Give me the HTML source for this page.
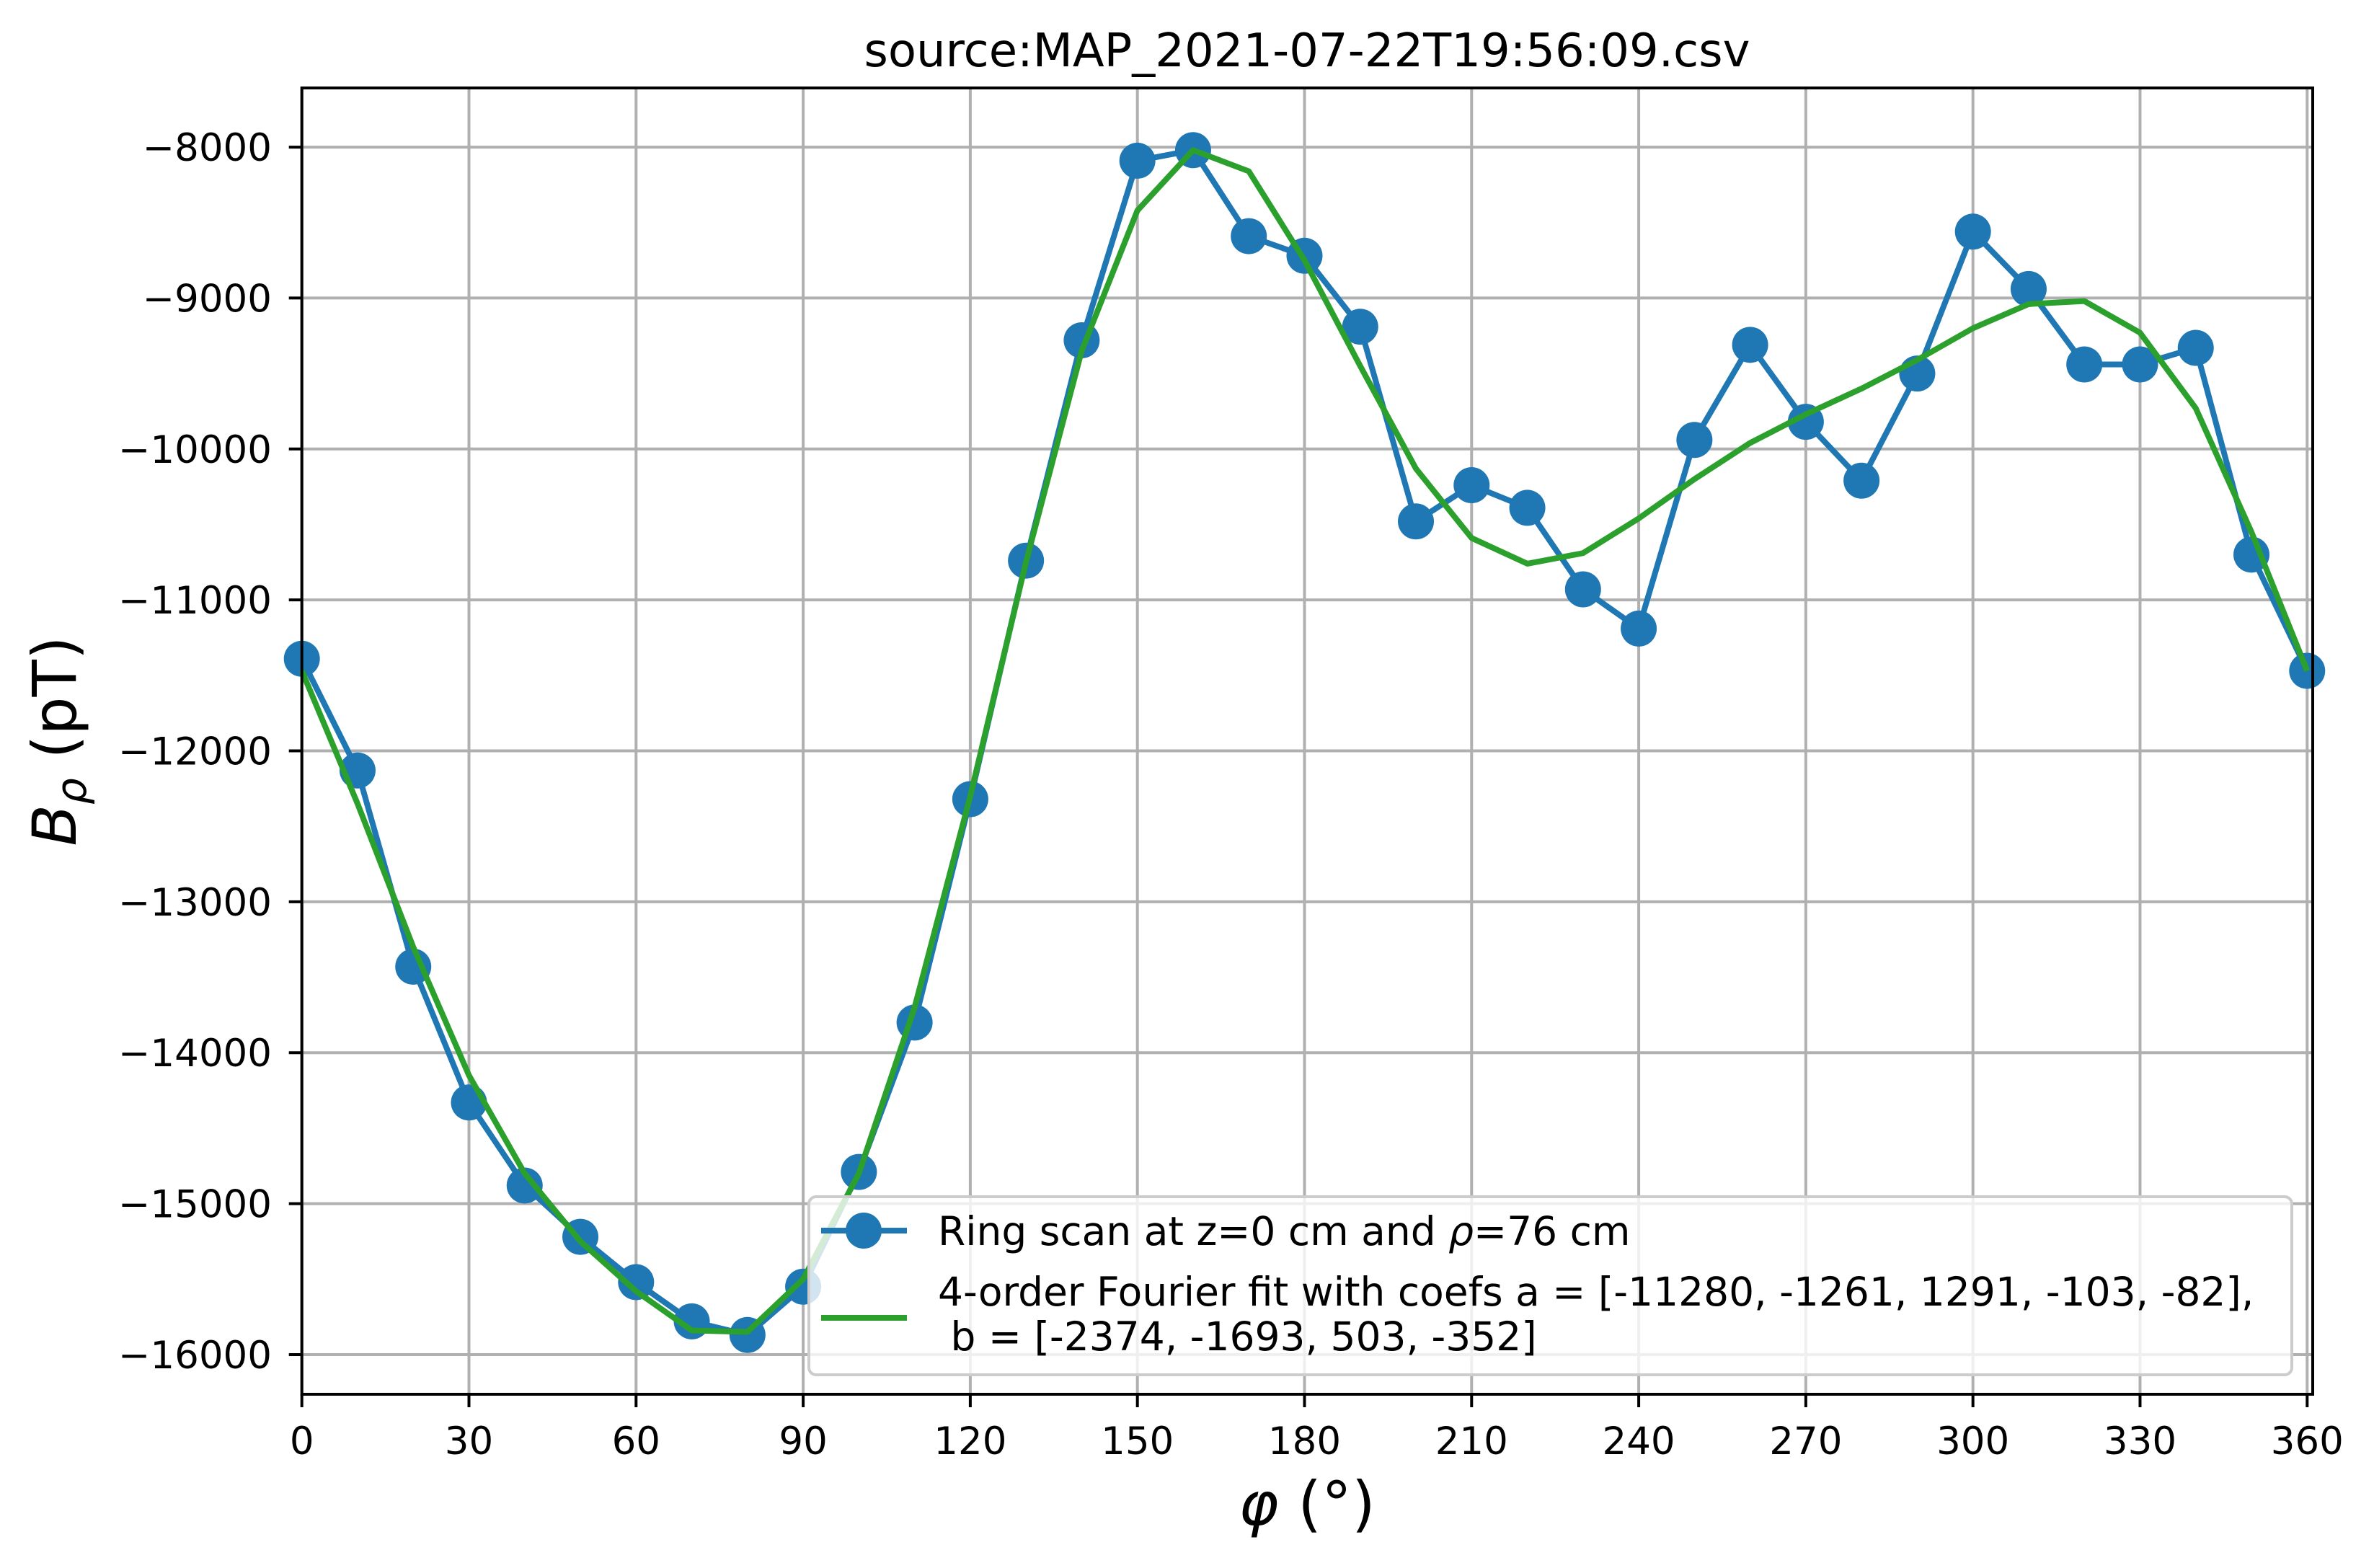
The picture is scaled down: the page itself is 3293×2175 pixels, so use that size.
<!DOCTYPE html>
<html><head><meta charset="utf-8"><style>
html,body{margin:0;padding:0;background:#fff;}
svg{display:block;font-family:"DejaVu Sans","Liberation Sans",sans-serif;}
</style></head><body>
<svg id="chart" width="3293" height="2175" viewBox="0 0 3293 2175" xmlns="http://www.w3.org/2000/svg">
<rect width="3293" height="2175" fill="#fff"/>
<g id="grid"></g>
<g id="series"></g>
<g id="legend">
  <rect x="1122" y="1660" width="2057" height="247" rx="10" fill="#fff" fill-opacity="0.8" stroke="#cccccc" stroke-width="4"/>
  <g>
    <line x1="1139" y1="1707" x2="1258" y2="1707" stroke="#1f77b4" stroke-width="8"/>
    <circle cx="1198" cy="1707" r="25" fill="#1f77b4"/>
    <text x="1301" y="1727" font-size="55">Ring scan at z=0 cm and <tspan font-style="italic">ρ</tspan>=76 cm</text>
  </g>
  <g>
    <line x1="1139" y1="1828" x2="1258" y2="1828" stroke="#2ca02c" stroke-width="8"/>
    <text x="1301" y="1811" font-size="55">4-order Fourier fit with coefs a = [-11280, -1261, 1291, -103, -82],</text>
    <text x="1301" y="1873" font-size="55" xml:space="preserve"> b = [-2374, -1693, 503, -352]</text>
  </g>
</g>
<g id="axes"></g>
<text x="1813" y="92" font-size="64" text-anchor="middle">source:MAP_2021-07-22T19:56:09.csv</text>
<text x="1813" y="2115" font-size="84" text-anchor="middle"><tspan font-style="italic">φ</tspan> (°)</text>
<text transform="translate(105,1028) rotate(-90)" font-size="84" text-anchor="middle"><tspan font-style="italic">B</tspan><tspan font-style="italic" font-size="58" dy="14">ρ</tspan><tspan dy="-14"> (pT)</tspan></text>
</svg>
<script>
const phi = [0,10,20,30,40,50,60,70,80,90,100,110,120,130,140,150,160,170,180,190,200,210,220,230,240,250,260,270,280,290,300,310,320,330,340,350,360];
const ringScan = [-11390,-12130,-13430,-14330,-14880,-15220,-15520,-15780,-15870,-15550,-14790,-13800,-12320,-10740,-9280,-8090,-8020,-8590,-8720,-9190,-10480,-10240,-10390,-10930,-11190,-9940,-9310,-9820,-10210,-9500,-8560,-8940,-9440,-9440,-9330,-10700,-11470];
const fourierFit = [-11470,-12350,-13300,-14150,-14800,-15250,-15580,-15840,-15850,-15500,-14800,-13700,-12300,-10750,-9350,-8420,-8020,-8160,-8750,-9450,-10130,-10590,-10760,-10690,-10460,-10200,-9960,-9770,-9600,-9410,-9200,-9040,-9020,-9230,-9730,-10550,-11470];
const xTicks = [0,30,60,90,120,150,180,210,240,270,300,330,360];
const yTicks = [-8000,-9000,-10000,-11000,-12000,-13000,-14000,-15000,-16000];

const NS = "http://www.w3.org/2000/svg";
const L = 418.7, R = 3208, T = 122, B = 1934;
const xMin = 0, xMax = 361.0, yMin = -16263, yMax = -7608;
function xs(v){ return L + (v - xMin) / (xMax - xMin) * (R - L); }
function ys(v){ return B - (v - yMin) / (yMax - yMin) * (B - T); }
function mk(tag, attrs, parent){ const e = document.createElementNS(NS, tag); for (const k in attrs) e.setAttribute(k, attrs[k]); parent.appendChild(e); return e; }

const grid = document.getElementById('grid');
const axes = document.getElementById('axes');
const series = document.getElementById('series');

xTicks.forEach(t => {
  const g = mk('line', {x1: xs(t), x2: xs(t), y1: T, y2: B, stroke: '#b0b0b0', 'stroke-width': 4}, grid);
  
  
  const tk = mk('line', {x1: xs(t), x2: xs(t), y1: B, y2: B + 18, stroke: '#000', 'stroke-width': 4}, axes);
  
  
  const lb = mk('text', {x: xs(t), y: 2017, 'font-size': 53, 'text-anchor': 'middle'}, axes);
  lb.textContent = String(t);
  
  
});
yTicks.forEach(t => {
  const g = mk('line', {x1: L, x2: R, y1: ys(t), y2: ys(t), stroke: '#b0b0b0', 'stroke-width': 4}, grid);
  
  
  const tk = mk('line', {x1: L - 18, x2: L, y1: ys(t), y2: ys(t), stroke: '#000', 'stroke-width': 4}, axes);
  
  
  const lb = mk('text', {x: 377, y: ys(t) + 19, 'font-size': 53, 'text-anchor': 'end'}, axes);
  lb.textContent = '\u2212' + String(Math.abs(t));
  
  
});
const frame = mk('rect', {x: L, y: T, width: R - L, height: B - T, fill: 'none', stroke: '#000', 'stroke-width': 4}, axes);



const ringPts = phi.map((p, i) => xs(p) + ',' + ys(ringScan[i])).join(' ');
const ringLine = mk('polyline', {points: ringPts, fill: 'none', stroke: '#1f77b4', 'stroke-width': 8, 'stroke-linejoin': 'round'}, series);


phi.forEach((p, i) => {
  const c = mk('circle', {cx: xs(p), cy: ys(ringScan[i]), r: 25, fill: '#1f77b4'}, series);
  
  
});
const fitPts = phi.map((p, i) => xs(p) + ',' + ys(fourierFit[i])).join(' ');
const fitLine = mk('polyline', {points: fitPts, fill: 'none', stroke: '#2ca02c', 'stroke-width': 8, 'stroke-linejoin': 'round'}, series);


</script>
</body></html>
